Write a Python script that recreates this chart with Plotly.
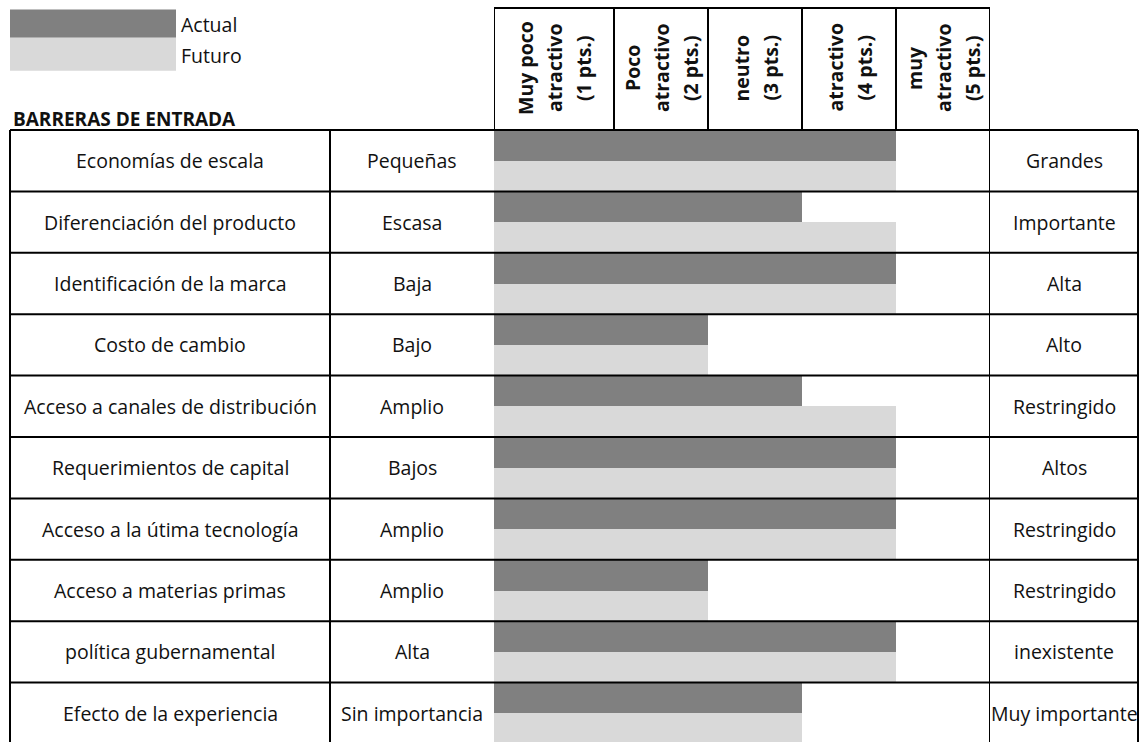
import plotly.graph_objects as go

# ---- data ----
factores = [
    "Economías de escala",
    "Diferenciación del producto",
    "Identificación de la marca",
    "Costo de cambio",
    "Acceso a canales de distribución",
    "Requerimientos de capital",
    "Acceso a la útima tecnología",
    "Acceso a materias primas",
    "política gubernamental",
    "Efecto de la experiencia",
]
extremo_bajo = ["Pequeñas", "Escasa", "Baja", "Bajo", "Amplio", "Bajos",
                "Amplio", "Amplio", "Alta", "Sin importancia"]
extremo_alto = ["Grandes", "Importante", "Alta", "Alto", "Restringido", "Altos",
                "Restringido", "Restringido", "inexistente", "Muy importante"]
actual = [4, 3, 4, 2, 3, 4, 4, 2, 4, 3]
futuro = [4, 4, 4, 2, 4, 4, 4, 2, 4, 3]
escala = [
    ["Muy poco", "atractivo", "(1 pts.)"],
    ["Poco", "atractivo", "(2 pts.)"],
    ["neutro", "(3 pts.)"],
    ["atractivo", "(4 pts.)"],
    ["muy", "atractivo", "(5 pts.)"],
]
series = ["Actual", "Futuro"]

# ---- page geometry (pixels) ----
W, H = 1146, 742
X_MIN, X_MAX = -0.2766, 5.0          # bar axis extent
BAR_L, BAR_R = 494, 990               # bar axis span on the page
TABLE_L, COL1, TABLE_R = 10, 330, 1138
HEAD_T, BODY_T = 8, 130
ROW_H = 61.4
PPU = (BAR_R - BAR_L) / (X_MAX - X_MIN)   # pixels per scale point

DARK, LIGHT = "#808080", "#d9d9d9"
FONT = "Open Sans"
TXT = "#111111"


def px(x):
    return x / W


def py(y):
    return 1 - y / H


ypos = list(range(len(factores)))
fig = go.Figure()
for name, vals, col in [(series[0], actual, DARK), (series[1], futuro, LIGHT)]:
    fig.add_trace(go.Bar(
        y=ypos, x=[v - X_MIN for v in vals], base=X_MIN,
        orientation="h", name=name, marker=dict(color=col, line=dict(width=0)),
        showlegend=False, hoverinfo="skip",
    ))

n_rows = len(factores)
y_bottom = -0.5 + (H - BODY_T) / ROW_H

fig.update_layout(
    width=W, height=H, margin=dict(l=0, r=0, t=0, b=0),
    paper_bgcolor="white", plot_bgcolor="rgba(0,0,0,0)",
    barmode="group", bargap=0, bargroupgap=0,
    xaxis=dict(domain=[px(BAR_L), px(BAR_R)], range=[X_MIN, X_MAX],
               visible=False, fixedrange=True),
    yaxis=dict(domain=[0, py(BODY_T)], range=[y_bottom, -0.5],
               visible=False, fixedrange=True),
    showlegend=False,
)

shapes = []
LW = 2


def hline(y, x0, x1, w=LW):
    shapes.append(dict(type="line", xref="paper", yref="paper",
                       x0=px(x0), x1=px(x1), y0=py(y), y1=py(y),
                       line=dict(color="black", width=w)))


def vline(x, y0, y1, w=LW, xref="paper"):
    xv = px(x) if xref == "paper" else x
    shapes.append(dict(type="line", xref=xref, yref="paper",
                       x0=xv, x1=xv, y0=py(y0), y1=py(y1),
                       line=dict(color="black", width=w)))


# table rows
for k in range(n_rows + 1):
    hline(BODY_T + k * ROW_H, TABLE_L, TABLE_R)
# header frame
hline(HEAD_T, BAR_L, BAR_R)
for v in [X_MIN, 1, 2, 3, 4]:
    vline(v, HEAD_T, BODY_T, xref="x")
vline(X_MAX, HEAD_T, H, xref="x")
# body verticals
vline(TABLE_L, BODY_T, H)
vline(COL1, BODY_T, H)
vline(TABLE_R, BODY_T, H)

# legend swatches
shapes.append(dict(type="rect", xref="paper", yref="paper",
                   x0=px(10), x1=px(176), y0=py(9.5), y1=py(37.7),
                   fillcolor=DARK, line=dict(width=0), layer="below"))
shapes.append(dict(type="rect", xref="paper", yref="paper",
                   x0=px(10), x1=px(176), y0=py(37.7), y1=py(70.7),
                   fillcolor=LIGHT, line=dict(width=0), layer="below"))

annotations = []


def label(text, x, y, size=19.5, bold=False, xanchor="center", angle=0):
    annotations.append(dict(
        text=f"<b>{text}</b>" if bold else text,
        xref="paper", yref="paper", x=px(x), y=py(y),
        xanchor=xanchor, yanchor="middle", showarrow=False,
        textangle=angle, borderpad=0,
        font=dict(family=FONT, size=size, color=TXT),
    ))


label(series[0], 180, 24.5, xanchor="left")
label(series[1], 180, 56, xanchor="left")
label("BARRERAS DE ENTRADA", 12, 119, size=19, bold=True, xanchor="left")

for i in range(n_rows):
    yc = BODY_T + (i + 0.5) * ROW_H
    label(factores[i], (TABLE_L + COL1) / 2, yc)
    label(extremo_bajo[i], (COL1 + BAR_L) / 2, yc)
    label(extremo_alto[i], (BAR_R + TABLE_R) / 2, yc)

# rotated scale headers, one column per scale point, lines stacked left→right
bounds = [X_MIN, 1, 2, 3, 4, X_MAX]
LINE_GAP = 29
for j, lines in enumerate(escala):
    xc_px = BAR_L + ((bounds[j] + bounds[j + 1]) / 2 - X_MIN) * PPU
    n = len(lines)
    for k, line in enumerate(lines):
        label(line, xc_px + (k - (n - 1) / 2) * LINE_GAP, 68,
              size=19.5, bold=True, angle=-90)

fig.update_layout(shapes=shapes, annotations=annotations)
fig.write_html("out.html")
